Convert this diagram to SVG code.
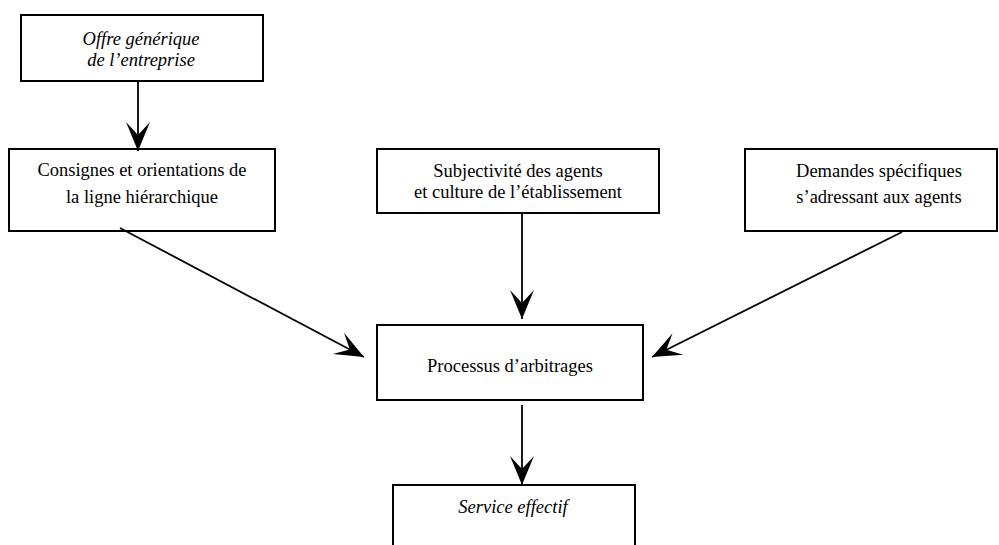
<svg xmlns="http://www.w3.org/2000/svg" width="999" height="545" viewBox="0 0 999 545">
<defs>
<style>
.box{fill:#fff;stroke:#000;stroke-width:2}
.t{font-family:"Liberation Serif","Times New Roman",serif;font-size:18.5px;fill:#000;text-anchor:middle}
.i{font-style:italic}
.c{stroke:#000;stroke-width:1.8;fill:none;marker-end:url(#ah)}
</style>
<marker id="ah" markerUnits="userSpaceOnUse" viewBox="-32 -13 34 26" refX="0" refY="0" markerWidth="34" markerHeight="26" orient="auto">
<path d="M0,0 L-29,-12 L-16,0 L-29,12 Z" fill="#000"/>
</marker>
</defs>
<rect width="999" height="545" fill="#fff"/>
<g id="n-offre">
<rect class="box" x="21" y="15" width="242" height="66"/>
<text class="t i" x="141" y="45">Offre générique</text>
<text class="t i" x="141" y="66">de l’entreprise</text>
</g>
<g id="n-consignes">
<rect class="box" x="9" y="149" width="266" height="82"/>
<text class="t" x="142" y="176">Consignes et orientations de</text>
<text class="t" x="142" y="203">la ligne hiérarchique</text>
</g>
<g id="n-subjectivite">
<rect class="box" x="377" y="149" width="282" height="64"/>
<text class="t" x="518" y="177">Subjectivité des agents</text>
<text class="t" x="518" y="198">et culture de l’établissement</text>
</g>
<g id="n-demandes">
<rect class="box" x="745" y="149" width="252" height="82"/>
<text class="t" x="879" y="177">Demandes spécifiques</text>
<text class="t" x="879" y="203">s’adressant aux agents</text>
</g>
<g id="n-processus">
<rect class="box" x="377" y="325" width="266" height="75"/>
<text class="t" x="510" y="372">Processus d’arbitrages</text>
</g>
<g id="n-service">
<rect class="box" x="393" y="485" width="242" height="80"/>
<text class="t i" x="513" y="513">Service effectif</text>
</g>
<g id="connectors">
<line class="c" x1="138" y1="81" x2="138" y2="151"/>
<line class="c" x1="120" y1="228" x2="364" y2="357"/>
<line class="c" x1="522" y1="213" x2="522" y2="319"/>
<line class="c" x1="902" y1="232" x2="652" y2="357"/>
<line class="c" x1="522" y1="405" x2="522" y2="485"/>
</g>
</svg>
